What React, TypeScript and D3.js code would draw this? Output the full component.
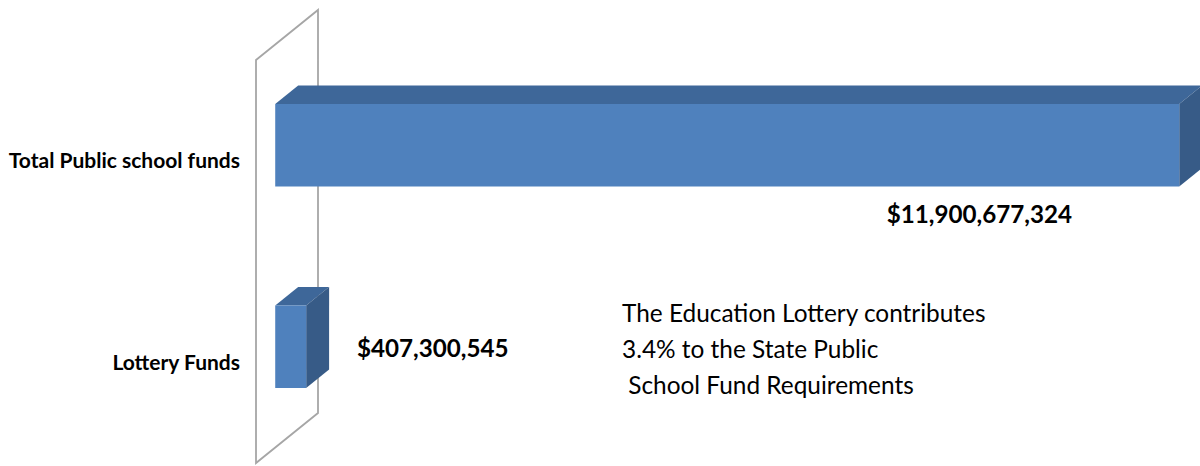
import React from "react";
import * as d3 from "d3";

const categories = ["Total Public school funds", "Lottery Funds"];
const values = [11900677324, 407300545];
const valueLabels = ["$11,900,677,324", "$407,300,545"];
const noteLines = [
  "The Education Lottery contributes",
  "3.4% to the State Public",
  " School Fund Requirements",
];

const width = 1200;
const height = 466;
const plot = { left: 256, right: 1160, top: 60, bottom: 463 };
const depthX = 62;
const depthY = 50;
const barFront = 0.31;
const barBack = 0.68;

const colors = {
  front: "#4f81bd",
  top: "#3e6799",
  side: "#375b87",
  wall: "#a6a6a6",
};

const font = "Lato, Calibri, 'Open Sans', sans-serif";

export default function App() {
  const x = d3.scaleLinear().domain([0, d3.max(values) as number]).range([plot.left, plot.right]);
  const y = d3
    .scaleBand<string>()
    .domain(categories)
    .range([plot.top, plot.bottom])
    .paddingInner(0.59)
    .paddingOuter(0.295);

  const pt = (px: number, py: number, d: number): [number, number] => [px + d * depthX, py - d * depthY];
  const poly = (pts: [number, number][]) => pts.map((p) => p.join(",")).join(" ");

  const wall = poly([
    pt(plot.left, plot.top, 0),
    pt(plot.left, plot.top, 1),
    pt(plot.left, plot.bottom, 1),
    pt(plot.left, plot.bottom, 0),
  ]);

  const labelPos = [
    { dx: -88, dy: 54, anchor: "end" },
    { dx: 70, dy: -14, anchor: "start" },
  ];

  return (
    <div style={{ position: "absolute", left: 0, top: 0 }}>
      <svg width={width} height={height} style={{ display: "block", background: "#fff" }}>
        <polygon points={wall} fill="none" stroke={colors.wall} strokeWidth={1.8} />
        {categories.map((c, i) => {
          const y0 = y(c) as number;
          const y1 = y0 + y.bandwidth();
          const x0 = x(0);
          const x1 = x(values[i]);
          const front = poly([pt(x0, y0, barFront), pt(x1, y0, barFront), pt(x1, y1, barFront), pt(x0, y1, barFront)]);
          const top = poly([pt(x0, y0, barFront), pt(x0, y0, barBack), pt(x1, y0, barBack), pt(x1, y0, barFront)]);
          const side = poly([pt(x1, y0, barFront), pt(x1, y0, barBack), pt(x1, y1, barBack), pt(x1, y1, barFront)]);
          return (
            <g key={c}>
              <polygon points={top} fill={colors.top} />
              <polygon points={side} fill={colors.side} />
              <polygon points={front} fill={colors.front} />
            </g>
          );
        })}
        {categories.map((c) => (
          <text
            key={"cat" + c}
            x={240}
            y={(y(c) as number) + y.bandwidth() / 2}
            dy="0.35em"
            textAnchor="end"
            fontFamily={font}
            fontWeight={700}
            fontSize={21}
            fill="#000"
          >
            {c}
          </text>
        ))}
        {valueLabels.map((t, i) => {
          const cy = (y(categories[i]) as number) + y.bandwidth() / 2;
          return (
            <text
              key={"v" + i}
              x={x(values[i]) + labelPos[i].dx}
              y={cy + labelPos[i].dy}
              dy="0.35em"
              textAnchor={labelPos[i].anchor as any}
              fontFamily={font}
              fontWeight={700}
              fontSize={24.2}
              fill="#000"
            >
              {t}
            </text>
          );
        })}
        {noteLines.map((t, i) => (
          <text
            key={"n" + i}
            x={622}
            y={313 + i * 36}
            dy="0.35em"
            fontFamily={font}
            fontSize={24.4}
            fill="#000"
            style={{ whiteSpace: "pre" }}
          >
            {t}
          </text>
        ))}
      </svg>
    </div>
  );
}
